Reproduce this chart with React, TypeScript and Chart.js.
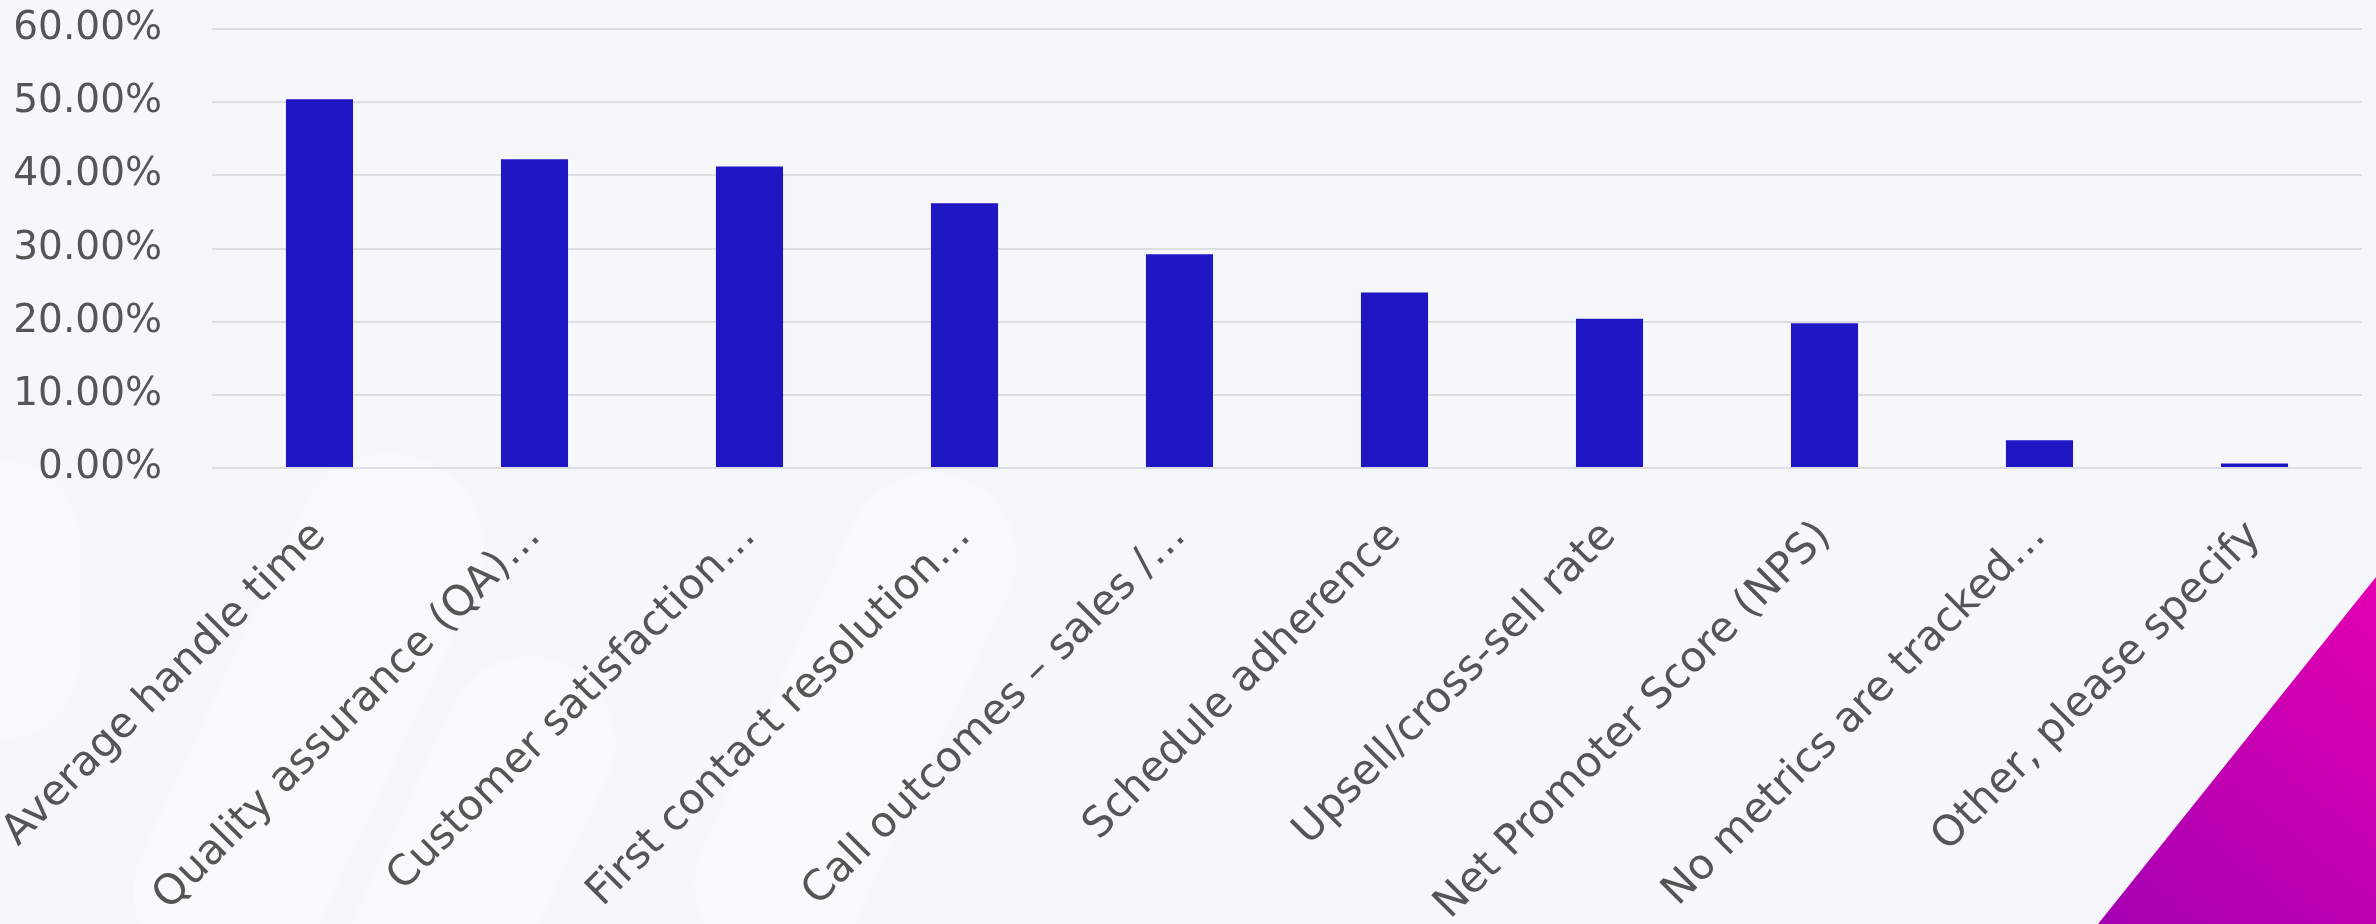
import React, { useEffect, useRef } from "react";
import { Chart, registerables } from "chart.js";

Chart.register(...registerables);

const categories: string[] = [
  "Average handle time",
  "Quality assurance (QA)…",
  "Customer satisfaction…",
  "First contact resolution…",
  "Call outcomes – sales /…",
  "Schedule adherence",
  "Upsell/cross-sell rate",
  "Net Promoter Score (NPS)",
  "No metrics are tracked…",
  "Other, please specify",
];

const shareValues: number[] = [50.4, 42.2, 41.2, 36.2, 29.2, 24.0, 20.4, 19.8, 3.8, 0.6];

const yTickValues: number[] = [0, 10, 20, 30, 40, 50, 60];

const FONT = "'DejaVu Sans', 'Noto Sans', sans-serif";

const backgroundPlugin = {
  id: "bgDecor",
  beforeDraw(chart: any) {
    const ctx: CanvasRenderingContext2D = chart.ctx;
    const w = chart.width;
    const h = chart.height;
    ctx.save();
    ctx.fillStyle = "#f6f7fb";
    ctx.fillRect(0, 0, w, h);

    // faint white capsules
    ctx.fillStyle = "rgba(255,255,255,0.3)";
    const capsule = (cx: number, cy: number, len: number, r: number, ang: number) => {
      ctx.save();
      ctx.translate(cx, cy);
      ctx.rotate(ang);
      ctx.beginPath();
      ctx.moveTo(-len / 2, -r);
      ctx.lineTo(len / 2, -r);
      ctx.arc(len / 2, 0, r, -Math.PI / 2, Math.PI / 2);
      ctx.lineTo(-len / 2, r);
      ctx.arc(-len / 2, 0, r, Math.PI / 2, (3 * Math.PI) / 2);
      ctx.closePath();
      ctx.fill();
      ctx.restore();
    };
    capsule(0, 600, 120, 80, Math.PI / 2);
    capsule(w * 0.13, h * 0.78, 380, 95, (-65 * Math.PI) / 180);
    capsule(w * 0.2, h * 0.93, 260, 85, (-65 * Math.PI) / 180);
    capsule(w * 0.36, h * 0.78, 360, 85, (-65 * Math.PI) / 180);

    // gradient triangle bottom right
    const g = ctx.createLinearGradient(w, h * 0.62, w * 0.88, h);
    g.addColorStop(0, "#e400b2");
    g.addColorStop(1, "#a400b2");
    ctx.fillStyle = g;
    ctx.beginPath();
    ctx.moveTo(w, h * 0.6245);
    ctx.lineTo(w, h);
    ctx.lineTo(w * 0.883, h);
    ctx.closePath();
    ctx.fill();
    ctx.restore();
  },
};

export default function App() {
  const canvasRef = useRef<HTMLCanvasElement | null>(null);

  useEffect(() => {
    if (!canvasRef.current) return;
    const chart = new Chart(canvasRef.current, {
      type: "bar",
      data: {
        labels: categories,
        datasets: [
          {
            data: shareValues,
            backgroundColor: "#1f16c4",
            borderWidth: 0,
            categoryPercentage: 0.8,
            barPercentage: 0.39,
          },
        ],
      },
      plugins: [backgroundPlugin],
      options: {
        animation: false,
        responsive: true,
        maintainAspectRatio: false,
        layout: { padding: { top: 29, right: 14, left: 0, bottom: 0 } },
        plugins: {
          legend: { display: false },
          tooltip: { enabled: false },
        },
        scales: {
          x: {
            grid: { display: false, drawTicks: false },
            border: { display: false },
            ticks: {
              minRotation: 45,
              maxRotation: 45,
              autoSkip: false,
              padding: 44,
              labelOffset: 0,
              color: "#555555",
              font: { family: FONT, size: 42 },
            },
            afterFit(scale: any) {
              scale.height = 456;
              scale.paddingLeft = 0;
              scale.paddingRight = 0;
              scale.paddingTop = 0;
              scale.paddingBottom = 0;
            },
          },
          y: {
            min: 0,
            max: 60,
            afterBuildTicks(scale: any) {
              scale.ticks = yTickValues.map((v) => ({ value: v }));
            },
            grid: { color: "#dcdde1", lineWidth: 2, drawTicks: false },
            border: { display: false },
            ticks: {
              padding: 50,
              color: "#555555",
              font: { family: FONT, size: 39 },
              callback: (v: any) => Number(v).toFixed(2) + "%",
            },
            afterFit(scale: any) {
              scale.width = 212;
              scale.paddingTop = 0;
              scale.paddingBottom = 0;
              scale.paddingLeft = 0;
              scale.paddingRight = 0;
            },
          },
        },
      },
    });
    return () => chart.destroy();
  }, []);

  return (
    <div style={{ position: "fixed", left: 0, top: 0, width: "100vw", height: "100vh" }}>
      <canvas ref={canvasRef} />
    </div>
  );
}
